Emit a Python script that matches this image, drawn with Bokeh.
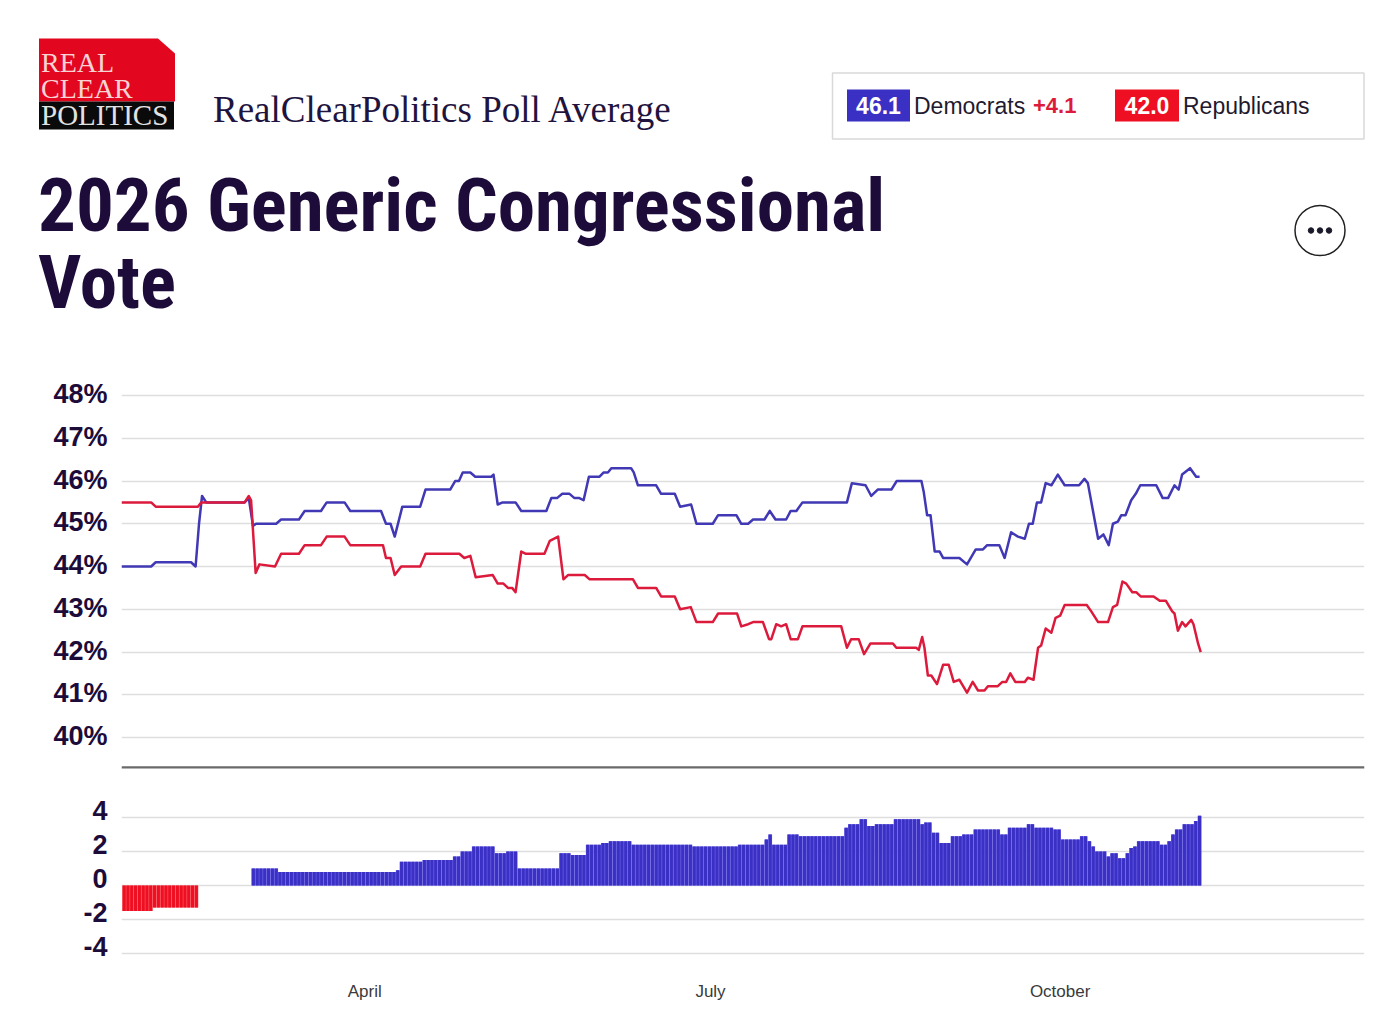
from bokeh.plotting import figure
from bokeh.layouts import column
from bokeh.models import (Range1d, LinearAxis, FixedTicker, Grid, Label, Span,
                          ColumnDataSource)
from bokeh.embed import file_html
from bokeh.resources import INLINE

# ---- data -------------------------------------------------------------
dem_days = [0, 7.8, 9, 18.3, 19.5, 20.4, 21.2, 22.3, 32.4, 33.5, 34.6, 35.4, 40.7, 42, 46.7, 48.2,
            52.5, 54, 58.7, 60.2, 68.3, 69.6, 70.8, 71.9, 73.9, 78.6, 80, 86.5, 87.8, 88.8, 89.8,
            91.8, 93.1, 97.3, 97.9, 99, 100.3, 103.7, 105.2, 111.1, 111.8, 113.1, 114.6, 116, 117.9,
            119.2, 120.5, 121.6, 123, 125.8, 126.9, 128, 128.9, 134.1, 134.8, 135.9, 140.7, 142,
            145.6, 147, 149.9, 151.3, 152.6, 155.6, 157, 161.8, 163.1, 164.9, 166.2, 169.2, 170.6,
            172.1, 174.9, 176.1, 177.6, 179.2, 190.3, 190.9, 192.2, 195.8, 197.3, 199, 202.6, 204,
            210.5, 211.1, 212, 212.9, 214, 215.3, 216.2, 220.5, 222.5, 224.8, 226.7, 227.8, 231,
            232.4, 234.1, 235.9, 237.7, 238.8, 239.8, 240.9, 242, 243.2, 244.7, 246.4, 248.2, 252,
            253.4, 254.3, 257, 258.4, 259.8, 260.9, 262.2, 263.1, 264.2, 265.7, 266.9, 268.1, 272.3,
            274, 275.4, 277.1, 278.2, 279.1, 281.2, 282.8, 283.7]
dem_vals = [44.0, 44.0, 44.1, 44.1, 44.0, 45.0, 45.65, 45.5, 45.5, 45.6, 44.95, 45.0, 45.0, 45.1, 45.1, 45.3,
            45.3, 45.5, 45.5, 45.3, 45.3, 45.0, 45.0, 44.7, 45.4, 45.4, 45.8, 45.8, 46.0, 46.0, 46.2,
            46.2, 46.1, 46.1, 46.15, 45.45, 45.5, 45.5, 45.3, 45.3, 45.3, 45.6, 45.6, 45.7, 45.7,
            45.6, 45.6, 45.55, 46.1, 46.1, 46.2, 46.2, 46.3, 46.3, 46.2, 45.9, 45.9, 45.7,
            45.7, 45.4, 45.45, 45.0, 45.0, 45.0, 45.2, 45.2, 45.0, 45.0, 45.1, 45.1, 45.3,
            45.1, 45.1, 45.3, 45.3, 45.5, 45.5, 45.5, 45.95, 45.9, 45.65, 45.8, 45.8, 46.0,
            46.0, 45.75, 45.2, 45.2, 44.35, 44.35, 44.2, 44.2, 44.05, 44.4, 44.4, 44.5, 44.5,
            44.2, 44.8, 44.7, 44.65, 45.0, 45.0, 45.5, 45.5, 45.95, 45.9, 46.15, 45.9, 45.9,
            46.05, 45.95, 44.65, 44.75, 44.5, 45.0, 45.05, 45.2, 45.2, 45.55, 45.7, 45.9, 45.9,
            45.6, 45.6, 45.9, 45.8, 46.15, 46.3, 46.1, 46.1]

rep_days = [0, 7.8, 9, 20.1, 21, 32.4, 33.5, 34.1, 35.3, 36.3, 40.4, 42, 46.7, 48.2, 52.5, 54, 58.7, 60.2,
            68.8, 69.6, 70.8, 71.9, 73.6, 78.6, 80, 88.9, 90.2, 91.8, 93.2, 97.7, 99, 100.5, 101.7,
            102.8, 103.7, 105.2, 106.3, 111.3, 112.7, 114.9, 116.3, 117.5, 121.9, 123.2, 134.6, 135.9,
            140.7, 142, 145.6, 147, 149.8, 151.3, 155.6, 157, 162, 163.1, 164.9, 166.2, 168.8, 170.4,
            171, 172.3, 173.6, 174.9, 176.1, 178, 179.2, 189.4, 190.9, 192, 194, 195.4, 197.1, 203,
            203.9, 209.1, 209.8, 210.7, 211.3, 212.2, 213.1, 214.6, 216.2, 217.7, 219, 220.5, 222.5,
            224, 225.4, 227.1, 228, 230.6, 231.8, 232.8, 233.9, 235.2, 237.7, 238.5, 240, 241.2, 242,
            243.2, 244.7, 245.8, 247, 248.2, 254, 255.2, 257, 259.6, 260.9, 262, 263.4, 264.4, 266,
            267, 268.2, 271.6, 273.2, 274.8, 276.5, 277.1, 278, 279.1, 280, 281.5, 282.1, 283.3, 284]
rep_vals = [45.5, 45.5, 45.4, 45.4, 45.5, 45.5, 45.65, 45.55, 43.85, 44.05, 44.0, 44.3, 44.3, 44.5, 44.5, 44.7, 44.7, 44.5,
            44.5, 44.2, 44.2, 43.8, 44.0, 44.0, 44.3, 44.3, 44.2, 44.25, 43.75, 43.8, 43.6, 43.6, 43.5,
            43.5, 43.4, 44.35, 44.3, 44.3, 44.6, 44.7, 43.7, 43.8, 43.8, 43.7, 43.7, 43.5,
            43.5, 43.3, 43.3, 43.0, 43.05, 42.7, 42.7, 42.9, 42.9, 42.6, 42.65, 42.7, 42.7, 42.3,
            42.3, 42.65, 42.6, 42.65, 42.3, 42.3, 42.6, 42.6, 42.1, 42.3, 42.3, 41.95, 42.2, 42.2,
            42.1, 42.1, 42.05, 42.35, 42.1, 41.45, 41.45, 41.25, 41.7, 41.7, 41.3, 41.35, 41.05,
            41.3, 41.1, 41.1, 41.2, 41.2, 41.3, 41.3, 41.5, 41.3, 41.3, 41.4, 41.35, 42.1, 42.15,
            42.55, 42.45, 42.8, 42.85, 43.1, 43.1, 42.95, 42.7, 42.7, 43.05, 43.1, 43.65, 43.6, 43.4,
            43.4, 43.3, 43.3, 43.2, 43.2, 42.95, 42.9, 42.5, 42.7, 42.6, 42.75, 42.65, 42.2, 42.0]

spread = [-1.5, -1.5, -1.5, -1.5, -1.5, -1.5, -1.5, -1.5, -1.3, -1.3,
          -1.3, -1.3, -1.3, -1.3, -1.3, -1.3, -1.3, -1.3, -1.3, -1.3,
          0, 0, 0, 0, 0, 0, 0, 0, 0, 0,
          0, 0, 0, 0, 1.0, 1.0, 1.0, 1.0, 1.0, 1.0,
          1.0, 0.8, 0.8, 0.8, 0.8, 0.8, 0.8, 0.8, 0.8, 0.8,
          0.8, 0.8, 0.8, 0.8, 0.8, 0.8, 0.8, 0.8, 0.8, 0.8,
          0.8, 0.8, 0.8, 0.8, 0.8, 0.8, 0.8, 0.8, 0.8, 0.8,
          0.8, 0.8, 0.9, 1.4, 1.4, 1.4, 1.4, 1.4, 1.4, 1.5,
          1.5, 1.5, 1.5, 1.5, 1.5, 1.5, 1.5, 1.7, 1.7, 2.0,
          2.0, 2.0, 2.3, 2.3, 2.3, 2.3, 2.3, 2.3, 1.9, 1.9,
          1.9, 2.0, 2.0, 2.0, 1.0, 1.0, 1.0, 1.0, 1.0, 1.0,
          1.0, 1.0, 1.0, 1.0, 1.0, 1.9, 1.9, 1.9, 1.8, 1.8,
          1.8, 1.8, 2.4, 2.4, 2.4, 2.4, 2.5, 2.5, 2.6, 2.6,
          2.6, 2.6, 2.6, 2.6, 2.4, 2.4, 2.4, 2.4, 2.4, 2.4,
          2.4, 2.4, 2.4, 2.4, 2.4, 2.4, 2.4, 2.4, 2.4, 2.4,
          2.3, 2.3, 2.3, 2.3, 2.3, 2.3, 2.3, 2.3, 2.3, 2.3,
          2.3, 2.3, 2.4, 2.4, 2.4, 2.4, 2.4, 2.4, 2.4, 2.7,
          3.0, 2.4, 2.4, 2.4, 2.4, 3.0, 3.0, 3.0, 2.9, 2.9,
          2.9, 2.9, 2.9, 2.9, 2.9, 2.9, 2.9, 2.9, 2.9, 2.9,
          3.4, 3.6, 3.6, 3.6, 3.9, 3.9, 3.5, 3.5, 3.6, 3.6,
          3.6, 3.6, 3.6, 3.9, 3.9, 3.9, 3.9, 3.9, 3.9, 3.9,
          3.6, 3.7, 3.7, 3.1, 3.1, 2.5, 2.5, 2.5, 2.9, 2.9,
          2.9, 3.0, 3.0, 3.0, 3.3, 3.3, 3.3, 3.3, 3.3, 3.3,
          3.3, 3.0, 3.0, 3.4, 3.4, 3.4, 3.4, 3.4, 3.6, 3.6,
          3.4, 3.4, 3.4, 3.4, 3.4, 3.3, 3.3, 2.7, 2.7, 2.7,
          2.7, 2.7, 2.9, 2.9, 2.6, 2.3, 2.0, 2.0, 2.0, 1.7,
          1.9, 1.9, 1.6, 1.6, 1.9, 2.2, 2.3, 2.6, 2.6, 2.6,
          2.6, 2.6, 2.6, 2.4, 2.4, 2.6, 3.0, 3.3, 3.3, 3.6,
          3.6, 3.6, 3.8, 4.1]

pct_ticks = [40, 41, 42, 43, 44, 45, 46, 47, 48]
spread_ticks = [-4, -2, 0, 2, 4]
month_ticks = [64, 155, 247]
month_labels = ["April", "July", "October"]

INK = "#1d0b3a"
BLUE = "#3b30c4"
BLUE_LIGHT = "#5f55e6"
RED = "#ee0f22"
RED_LIGHT = "#fb4a55"
LINE_BLUE = "#4038b4"
LINE_RED = "#dc1a3c"
GRID = "#dedede"
AXIS_FONT = "Liberation Sans"
X_RANGE = (0, 327.1)

# ---- header ------------------------------------------------------------
head = figure(width=1392, height=375, x_range=Range1d(0.5, 1392.5), y_range=Range1d(375, 0),
              output_backend="svg", toolbar_location=None, min_border=0)
head.frame_align = False
head.axis.visible = False
head.grid.visible = False
head.outline_line_color = None

head.patch([39, 158, 175, 175, 39], [38, 38, 53, 101, 101], color="#e2071f", line_width=0)
head.quad(left=[39], right=[174], top=[101], bottom=[129], color="#0a0a0a", line_width=0)

def label(x, y, text, font, size, color, style="normal", align="left"):
    head.add_layout(Label(x=x, y=y, text=text, text_font=font, text_font_size=f"{size}px",
                          text_color=color, text_font_style=style, text_align=align,
                          text_baseline="middle"))

label(41, 62, "REAL", "Liberation Serif", 28, "#f9d3d3")
label(41, 88, "CLEAR", "Liberation Serif", 28, "#f9d3d3")
label(41, 114, "POLITICS", "Liberation Serif", 29, "#e2e2e2")
label(213, 109, "RealClearPolitics Poll Average", "Liberation Serif", 37, "#1f1440")

label(38, 204, "2026 Generic Congressional", "Roboto Condensed", 75, INK, "bold")
label(38, 281, "Vote", "Roboto Condensed", 75, INK, "bold")

head.quad(left=[832.5], right=[1364], top=[72.5], bottom=[138.5], fill_color="white",
          line_color="#d9d9d9", line_width=1.5)
head.quad(left=[847], right=[910], top=[89], bottom=[121], color=BLUE, line_width=0)
head.quad(left=[1115], right=[1179], top=[89], bottom=[121], color=RED, line_width=0)
label(878.5, 105, "46.1", AXIS_FONT, 23, "white", "bold", "center")
label(914, 105, "Democrats", AXIS_FONT, 23, "#1f1a2e")
label(1033, 105, "+4.1", AXIS_FONT, 22, "#dc1a3c", "bold")
label(1147, 105, "42.0", AXIS_FONT, 23, "white", "bold", "center")
label(1183, 105, "Republicans", AXIS_FONT, 23, "#1f1a2e")

head.scatter([1320], [230], size=50, marker="circle", fill_color="white",
             line_color="#222222", line_width=1.5)
head.scatter([1311, 1320, 1329], [230, 230, 230], size=5.5, marker="circle", color="#1a1a2a")

# ---- poll lines --------------------------------------------------------
m0, m1 = 39.275, 48.468
main = figure(width=1392, height=405, x_range=Range1d(*X_RANGE), y_range=Range1d(m0, m1),
              output_backend="svg", toolbar_location=None, min_border=0,
              min_border_left=121, min_border_right=28, min_border_bottom=12,
              y_axis_location=None)
main.outline_line_color = None
main.xaxis.visible = False
main.xgrid.visible = False
main.ygrid.visible = False
main.extra_y_ranges = {"lab": Range1d(m0 - 0.03, m1 - 0.03)}
main.add_layout(Grid(dimension=1, ticker=FixedTicker(ticks=pct_ticks), grid_line_color=GRID,
                     grid_line_width=1.5))
main.add_layout(LinearAxis(y_range_name="lab", ticker=FixedTicker(ticks=pct_ticks),
                           major_label_overrides={t: f"{t}%" for t in pct_ticks},
                           axis_line_color=None, major_tick_line_color=None,
                           minor_tick_line_color=None, major_tick_out=0,
                           major_label_standoff=14, major_label_text_font=AXIS_FONT,
                           major_label_text_font_size="27px", major_label_text_font_style="bold",
                           major_label_text_color=INK), "left")
main.line(dem_days, dem_vals, line_color=LINE_BLUE, line_width=2.5, line_join="round")
main.line(rep_days, rep_vals, line_color=LINE_RED, line_width=2.5, line_join="round")
main.add_layout(Span(location=39.29, dimension="width", line_color="#6a6a6a", line_width=3))

# ---- spread bars -------------------------------------------------------
y0, y1 = -4.706, 5.294
label_shift = 0.41
bars = figure(width=1392, height=231, x_range=Range1d(*X_RANGE), y_range=Range1d(y0, y1),
              output_backend="svg", toolbar_location=None, min_border=0,
              min_border_left=121, min_border_right=28, min_border_top=15, min_border_bottom=46,
              y_axis_location=None)
bars.outline_line_color = None
bars.xgrid.visible = False
bars.ygrid.visible = False
bars.add_layout(Grid(dimension=1, ticker=FixedTicker(ticks=spread_ticks), grid_line_color=GRID,
                     grid_line_width=1.5))
bars.extra_y_ranges = {"lab": Range1d(y0 - label_shift, y1 - label_shift)}
yax = LinearAxis(y_range_name="lab", ticker=FixedTicker(ticks=spread_ticks),
                 major_label_overrides={t: str(t) for t in spread_ticks},
                 axis_line_color=None, major_tick_line_color=None, minor_tick_line_color=None,
                 major_tick_out=0,
                 major_label_standoff=14, major_label_text_font=AXIS_FONT,
                 major_label_text_font_size="27px", major_label_text_font_style="bold",
                 major_label_text_color=INK)
bars.add_layout(yax, "left")
xax = bars.xaxis[0]
xax.ticker = FixedTicker(ticks=month_ticks)
xax.major_label_overrides = dict(zip(month_ticks, month_labels))
xax.axis_line_color = None
xax.major_tick_line_color = None
xax.major_tick_out = 0
xax.minor_tick_line_color = None
xax.major_label_standoff = 16
xax.major_label_text_font = AXIS_FONT
xax.major_label_text_font_size = "17px"
xax.major_label_text_color = "#3a3a3a"

days = list(range(len(spread)))
src = ColumnDataSource(dict(
    x=[d + 0.7 for d in days],
    top=[max(v, 0) for v in spread],
    bottom=[min(v, 0) for v in spread],
    color=[BLUE if v >= 0 else RED for v in spread],
    under=[BLUE_LIGHT if v >= 0 else RED_LIGHT for v in spread],
))
bars.vbar(x="x", top="top", bottom="bottom", width=1.0, fill_color="under", line_color=None, source=src)
bars.vbar(x="x", top="top", bottom="bottom", width=0.8, fill_color="color", line_color=None, source=src)

page = column(head, main, bars, spacing=0)
open("out.html", "w").write(file_html(page, INLINE))
